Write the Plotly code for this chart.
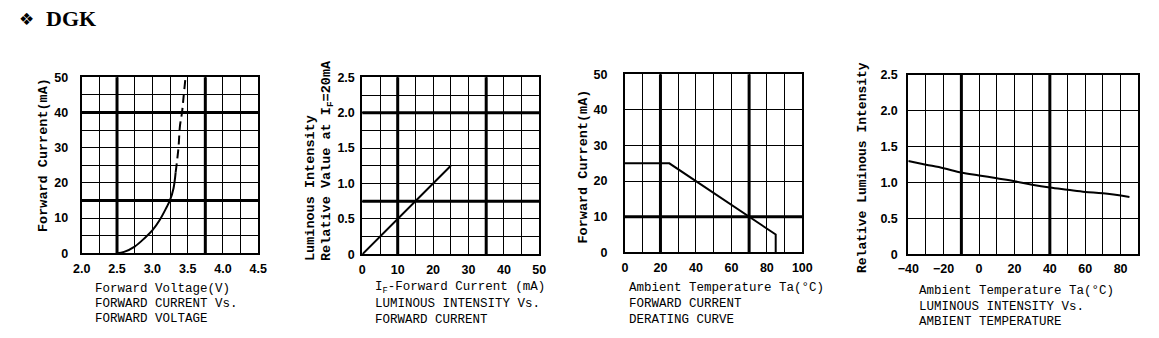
import plotly.graph_objects as go

W, H = 1159, 338

# ---------------- data ----------------
# Chart 1: forward current vs forward voltage
fv_solid_v = [2.50, 2.60, 2.75, 2.90, 3.00, 3.10, 3.20, 3.25, 3.30, 3.33]
fv_solid_i = [0.0, 0.4, 1.9, 4.5, 6.5, 9.3, 13.0, 15.1, 18.5, 23.0]
fv_dash_v = [3.33, 3.37, 3.39, 3.42, 3.445, 3.47]
fv_dash_i = [23.0, 30.0, 36.0, 40.0, 45.0, 50.0]
c1_xticks = [2.0, 2.5, 3.0, 3.5, 4.0, 4.5]
c1_xlabels = ["2.0", "2.5", "3.0", "3.5", "4.0", "4.5"]
c1_yticks = [0, 10, 20, 30, 40, 50]
c1_ylabels = ["0", "10", "20", "30", "40", "50"]
c1_thick_x = [2.5, 3.75]
c1_thick_y = [15, 40]

# Chart 2: luminous intensity vs forward current
li_if = [0, 25]
li_rel = [0.0, 1.25]
c2_xticks = [0, 10, 20, 30, 40, 50]
c2_xlabels = ["0", "10", "20", "30", "40", "50"]
c2_yticks = [0, 0.5, 1.0, 1.5, 2.0, 2.5]
c2_ylabels = ["0", "0.5", "1.0", "1.5", "2.0", "2.5"]
c2_thick_x = [10, 35]
c2_thick_y = [0.75, 2.0]

# Chart 3: derating curve
dr_ta = [0, 25, 85, 85]
dr_if = [25, 25, 5, 0]
c3_xticks = [0, 20, 40, 60, 80, 100]
c3_xlabels = ["0", "20", "40", "60", "80", "100"]
c3_yticks = [0, 10, 20, 30, 40, 50]
c3_ylabels = ["0", "10", "20", "30", "40", "50"]
c3_thick_x = [20, 70]
c3_thick_y = [10]

# Chart 4: luminous intensity vs ambient temperature
lt_ta = [-40, -30, -20, -10, 0, 10, 20, 30, 40, 50, 60, 70, 85]
lt_rel = [1.30, 1.25, 1.20, 1.14, 1.10, 1.06, 1.02, 0.97, 0.93, 0.90, 0.87, 0.85, 0.80]
c4_xticks = [-40, -20, 0, 20, 40, 60, 80]
c4_xlabels = ["\u221240", "\u221220", "0", "20", "40", "60", "80"]
c4_yticks = [0, 0.5, 1.0, 1.5, 2.0, 2.5]
c4_ylabels = ["0", "0.5", "1.0", "1.5", "2.0", "2.5"]
c4_thick_x = [-10, 40]

# ---------------- helpers ----------------
def fx(p):
    return p / W

def fy(p):
    return 1 - p / H

TICKFONT = dict(family="Liberation Sans, Arial, sans-serif", size=12.5, color="black", weight="bold")
TXTFONT = "Liberation Mono, Courier New, monospace"

fig = go.Figure()

line = dict(color="black", width=2)
fig.add_trace(go.Scatter(x=fv_solid_v, y=fv_solid_i, mode="lines", line=dict(color="black", width=2, shape="spline"), xaxis="x", yaxis="y"))
fig.add_trace(go.Scatter(x=fv_dash_v, y=fv_dash_i, mode="lines", line=dict(color="black", width=2, shape="spline", dash="9px,5px"), xaxis="x", yaxis="y"))
fig.add_trace(go.Scatter(x=li_if, y=li_rel, mode="lines", line=line, xaxis="x2", yaxis="y2"))
fig.add_trace(go.Scatter(x=dr_ta, y=dr_if, mode="lines", line=line, xaxis="x3", yaxis="y3"))
fig.add_trace(go.Scatter(x=lt_ta, y=lt_rel, mode="lines", line=dict(color="black", width=2, shape="spline"), xaxis="x4", yaxis="y4"))


def xax(l, r, rng, ticks, labels, minor, anchor, standoff=2):
    d = dict(domain=[fx(l), fx(r)], range=rng, tickmode="array", tickvals=ticks, ticktext=labels,
             showgrid=True, gridcolor="black", gridwidth=1, zeroline=False,
             showline=True, mirror=True, linecolor="black", linewidth=2, ticks="",
             tickfont=TICKFONT, ticklabelstandoff=standoff, anchor=anchor,
             automargin=False, fixedrange=True)
    if minor:
        d["minor"] = dict(tickmode="array", tickvals=minor, showgrid=True, gridcolor="black", gridwidth=1, ticks="")
    return d


def yax(t, b, rng, ticks, labels, minor, anchor, standoff=6):
    d = dict(domain=[fy(b), fy(t)], range=rng, tickmode="array", tickvals=ticks, ticktext=labels,
             showgrid=True, gridcolor="black", gridwidth=1, zeroline=False,
             showline=True, mirror=True, linecolor="black", linewidth=2, ticks="",
             tickfont=TICKFONT, ticklabelstandoff=standoff, anchor=anchor,
             automargin=False, fixedrange=True)
    if minor:
        d["minor"] = dict(tickmode="array", tickvals=minor, showgrid=True, gridcolor="black", gridwidth=1, ticks="")
    return d

c1_xminor = [2.25, 2.75, 3.25, 3.75, 4.25]
c1_yminor = [5, 15, 25, 35, 45]
c2_xminor = [5, 15, 25, 35, 45]
c2_yminor = [0.25, 0.75, 1.25, 1.75, 2.25]
c3_xminor = [10, 30, 50, 70, 90]
c4_xminor = [-30, -10, 10, 30, 50, 70, 90]

fig.update_layout(
    width=W, height=H, margin=dict(l=0, r=0, t=0, b=0),
    paper_bgcolor="white", plot_bgcolor="white", showlegend=False,
    xaxis=xax(81.7, 258.3, [2.0, 4.5], c1_xticks, c1_xlabels, c1_xminor, "y", 3),
    yaxis=yax(77.3, 253.3, [0, 50], c1_yticks, c1_ylabels, c1_yminor, "x", 9),
    xaxis2=xax(362.3, 539.3, [0, 50], c2_xticks, c2_xlabels, c2_xminor, "y2", 3),
    yaxis2=yax(77.3, 254.3, [0, 2.5], c2_yticks, c2_ylabels, c2_yminor, "x2", 3),
    xaxis3=xax(625, 802.3, [0, 100], c3_xticks, c3_xlabels, c3_xminor, "y3", 3),
    yaxis3=yax(74.3, 252.3, [0, 50], c3_yticks, c3_ylabels, None, "x3", 13),
    xaxis4=xax(908.3, 1138.3, [-40, 90], c4_xticks, c4_xlabels, c4_xminor, "y4", 2),
    yaxis4=yax(75, 254.3, [0, 2.5], c4_yticks, c4_ylabels, None, "x4", 6),
)

shapes = []
for xr, yr, tx, ty in [("x", "y", c1_thick_x, c1_thick_y), ("x2", "y2", c2_thick_x, c2_thick_y),
                       ("x3", "y3", c3_thick_x, c3_thick_y), ("x4", "y4", c4_thick_x, [])]:
    for v in tx:
        shapes.append(dict(type="line", xref=xr, yref=yr + " domain", x0=v, x1=v, y0=0, y1=1,
                           line=dict(color="black", width=3)))
    for v in ty:
        shapes.append(dict(type="line", xref=xr + " domain", yref=yr, x0=0, x1=1, y0=v, y1=v,
                           line=dict(color="black", width=3)))
fig.update_layout(shapes=shapes)

ann = []

def text(x, y, s, size=12.5, angle=0, xa="left", ya="middle", family=TXTFONT, weight="bold"):
    ann.append(dict(xref="paper", yref="paper", x=fx(x), y=fy(y), text=s, showarrow=False,
                    textangle=angle, xanchor=xa, yanchor=ya,
                    font=dict(family=family, size=size, color="black", weight=weight)))

# header
text(17, 19, "\u2756", size=17, family="DejaVu Sans", weight="normal")
text(44, 18, "DGK", size=22, family="Liberation Serif, Times New Roman, serif")

# y titles
text(43, 155, "Forward Current(mA)", size=13.5, angle=-90, xa="center")
text(310, 263, "Luminous Intensity", size=13.5, angle=-90, xa="center", ya="bottom")
text(327.5, 263, "Relative Value at I<sub>F</sub>=20mA", size=13.5, angle=-90, xa="center", ya="bottom")
text(582.5, 167, "Forward Current(mA)", size=13.5, angle=-90, xa="center")
text(862.5, 167.5, "Relative Luminous Intensity", size=13, angle=-90, xa="center")

# bottom texts
for x0, ys, lines in [
    (93, [289, 304, 319], ["Forward Voltage(V)", "FORWARD CURRENT Vs.", "FORWARD VOLTAGE"]),
    (373, [288, 303.5, 320], ["I<sub>F</sub>-Forward Current (mA)", "LUMINOUS INTENSITY Vs.", "FORWARD CURRENT"]),
    (627, [288, 304, 320], ["Ambient Temperature Ta(\u00b0C)", "FORWARD CURRENT", "DERATING CURVE"]),
    (917, [291, 306.5, 321.5], ["Ambient Temperature Ta(\u00b0C)", "LUMINOUS INTENSITY Vs.", "AMBIENT TEMPERATURE"]),
]:
    for yy, s in zip(ys, lines):
        text(x0, yy, s, size=12.5, weight="normal")

fig.update_layout(annotations=ann)

fig.write_html("out.html")
